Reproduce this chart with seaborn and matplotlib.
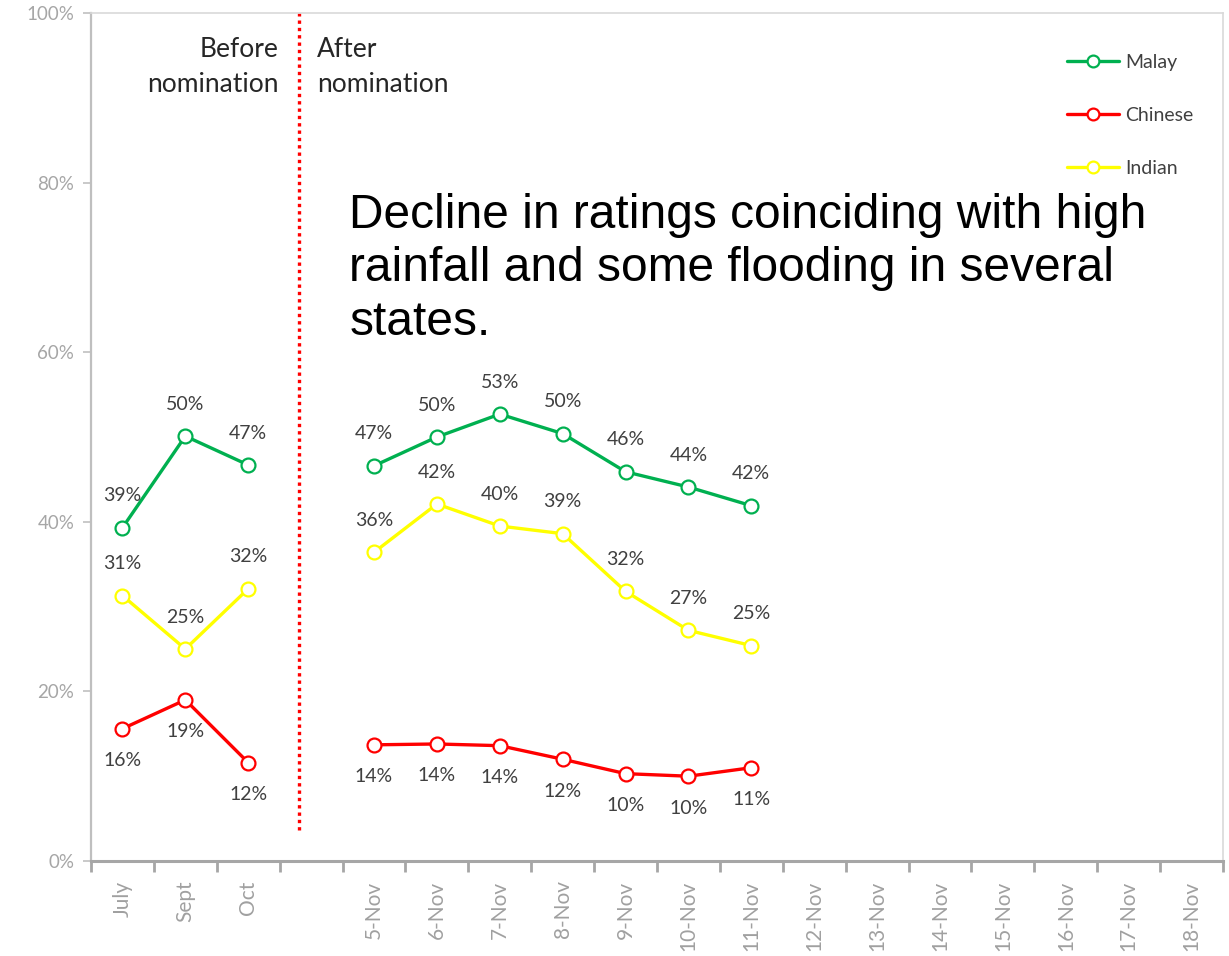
import matplotlib
matplotlib.use("Agg")
import matplotlib.pyplot as plt
from matplotlib.lines import Line2D
import seaborn as sns
import pandas as pd
import numpy as np

# ---- data ----
categories = ["July", "Sept", "Oct", "", "5-Nov", "6-Nov", "7-Nov", "8-Nov", "9-Nov",
              "10-Nov", "11-Nov", "12-Nov", "13-Nov", "14-Nov", "15-Nov", "16-Nov",
              "17-Nov", "18-Nov"]
before_cats = ["July", "Sept", "Oct"]
after_cats = ["5-Nov", "6-Nov", "7-Nov", "8-Nov", "9-Nov", "10-Nov", "11-Nov"]

malay_before = [39.3, 50.1, 46.7]
malay_after = [46.6, 50.0, 52.7, 50.4, 45.9, 44.1, 41.9]
chinese_before = [15.6, 19.0, 11.6]
chinese_after = [13.7, 13.8, 13.6, 12.0, 10.3, 10.0, 11.0]
indian_before = [31.3, 25.0, 32.1]
indian_after = [36.4, 42.1, 39.5, 38.6, 31.8, 27.2, 25.4]

series_names = ["Malay", "Chinese", "Indian"]
series_colors = {"Malay": "#00B050", "Chinese": "#FF0000", "Indian": "#FFFF00"}
label_side = {"Malay": 1, "Chinese": -1, "Indian": 1}

rows = []
for name, b, a in [("Malay", malay_before, malay_after),
                   ("Chinese", chinese_before, chinese_after),
                   ("Indian", indian_before, indian_after)]:
    for c, v in zip(before_cats, b):
        rows.append(dict(group=name, seg="before", cat=c, x=categories.index(c), value=v))
    for c, v in zip(after_cats, a):
        rows.append(dict(group=name, seg="after", cat=c, x=categories.index(c), value=v))
df = pd.DataFrame(rows)

sns.set_theme(style="white")
plt.rcParams["font.family"] = ["Lato", "DejaVu Sans"]

fig = plt.figure(figsize=(12.29, 9.56), dpi=100)
ax = fig.add_axes([91 / 1229, 1 - 861 / 956, 1132 / 1229, 848 / 956])

for name in series_names:
    for seg in ["before", "after"]:
        d = df[(df.group == name) & (df.seg == seg)]
        sns.lineplot(data=d, x="x", y="value", ax=ax, color=series_colors[name],
                     linewidth=2.4, marker="o", markersize=10,
                     markerfacecolor="white", markeredgecolor=series_colors[name],
                     markeredgewidth=1.6, legend=False, estimator=None, sort=False)
        for _, r in d.iterrows():
            ax.annotate(f"{r.value:.0f}%", (r.x, r.value),
                        xytext=(0, 23 * label_side[name]), textcoords="offset points",
                        ha="center", va="center", fontsize=14, color="#404040")

# divider line
ax.plot([2.81, 2.81], [3.7, 100], color="#FF0000", linestyle=(0, (1, 1.2)),
        linewidth=2.4, solid_capstyle="butt")

ax.text(2.48, 97.2, "Before\nnomination", ha="right", va="top", fontsize=19,
        color="#262626", linespacing=1.5)
ax.text(3.1, 97.2, "After\nnomination", ha="left", va="top", fontsize=19,
        color="#262626", linespacing=1.5)

ax.text(3.61, 78.8,
        "Decline in ratings coinciding with high\nrainfall and some flooding in several\nstates.",
        ha="left", va="top", fontsize=34.5, color="black",
        family=["Liberation Sans", "DejaVu Sans"], linespacing=1.24)

# axes styling
ax.set_xlim(-0.5, len(categories) - 0.5)
ax.set_ylim(0, 100)
ax.set_xticks(range(len(categories)))
ax.set_xticklabels(categories, rotation=90, fontsize=15, color="#a0a0a0")
ax.set_xticks(np.arange(-0.5, len(categories), 1.0), minor=True)
ax.tick_params(axis="x", which="major", length=0, pad=14)
ax.tick_params(axis="x", which="minor", length=8, width=2, color="#a6a6a6",
               direction="out", bottom=True)
ax.set_yticks([0, 20, 40, 60, 80, 100])
ax.set_yticklabels([f"{v}%" for v in [0, 20, 40, 60, 80, 100]], fontsize=13.5,
                   color="#a6a6a6")
ax.tick_params(axis="y", which="major", length=6, width=1.2, color="#c0c0c0",
               direction="out", left=True, pad=6)
ax.set_xlabel("")
ax.set_ylabel("")
for s in ["top", "right"]:
    ax.spines[s].set_color("#d9d9d9")
    ax.spines[s].set_linewidth(1.2)
ax.spines["left"].set_color("#bfbfbf")
ax.spines["left"].set_linewidth(1.6)
ax.spines["bottom"].set_color("#a6a6a6")
ax.spines["bottom"].set_linewidth(2.2)
ax.grid(False)

handles = [Line2D([0], [0], color=series_colors[n], linewidth=2.4, marker="o",
                  markersize=8.5, markerfacecolor="white",
                  markeredgecolor=series_colors[n], markeredgewidth=1.6)
           for n in series_names]
leg = ax.legend(handles, series_names, loc="upper left",
                bbox_to_anchor=(0.862, 0.952), frameon=False, fontsize=14,
                labelspacing=1.85, handlelength=2.7, handletextpad=0.3,
                borderpad=0, borderaxespad=0)
for t in leg.get_texts():
    t.set_color("#404040")

fig.savefig("out.png", dpi=100, facecolor="white")
